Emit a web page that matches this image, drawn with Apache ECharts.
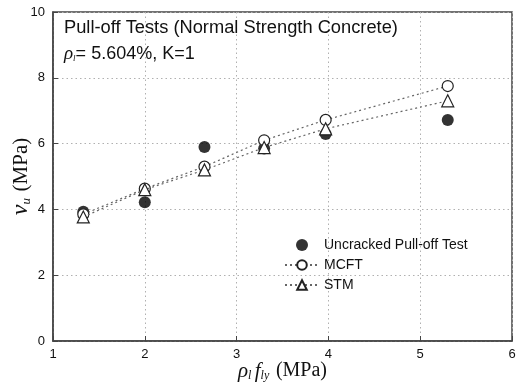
<!DOCTYPE html>
<html><head><meta charset="utf-8">
<script src="https://cdn.jsdelivr.net/npm/echarts@6/dist/echarts.min.js"></script>
<style>html,body{margin:0;padding:0;background:#fff}#c{width:521px;height:389px}</style>
</head><body><div id="c"></div>
<script>
const xVals = [1.33, 2.0, 2.65, 3.3, 3.97, 5.3];
const uncracked = [3.93, 4.22, 5.9, 5.85, 6.29, 6.72];
const mcft = [3.85, 4.63, 5.3, 6.1, 6.72, 7.75];
const stm = [3.77, 4.6, 5.2, 5.88, 6.45, 7.3];
const seriesNames = ['Uncracked Pull-off Test', 'MCFT', 'STM'];
const titleText = 'Pull-off Tests (Normal Strength Concrete)';
const subText = '= 5.604%, K=1';

const pair = arr => xVals.map((x, i) => [x, arr[i]]);
const chart = echarts.init(document.getElementById('c'));
const lineStyle = { type: [2, 3], color: '#666', width: 1.2 };
chart.setOption({
  animation: false,
  grid: { left: 53, right: 9, top: 12, bottom: 48, show: true, borderColor: '#444', borderWidth: 1.5, outerBoundsMode: 'none', containLabel: false },
  graphic: [
    { type: 'text', left: 64, top: 19, z: 10,
      style: { text: titleText, font: '18.3px "Liberation Sans"', fill: '#111' } },
    { type: 'text', left: 64, top: 44, z: 10,
      style: {
        text: '{r|ρ}{s|l}{n|' + subText + '}',
        rich: {
          r: { fontFamily: 'Liberation Serif', fontStyle: 'italic', fontSize: 19, fill: '#111', verticalAlign: 'bottom' },
          s: { fontFamily: 'Liberation Serif', fontStyle: 'italic', fontSize: 9, fill: '#111', verticalAlign: 'bottom' },
          n: { fontFamily: 'Liberation Sans', fontSize: 18, fill: '#111', verticalAlign: 'bottom' }
        }
      } }
  ],
  legend: {
    orient: 'vertical', left: 279, top: 233, itemGap: 6, itemWidth: 34, itemHeight: 12,
    data: seriesNames,
    textStyle: { fontFamily: 'Liberation Sans', fontSize: 14, color: '#111' }
  },
  xAxis: {
    type: 'value', min: 1, max: 6, interval: 1,
    axisLine: { lineStyle: { color: '#444', width: 1.5 } },
    axisTick: { inside: true, length: 5, lineStyle: { color: '#444' } },
    axisLabel: { fontFamily: 'Liberation Sans', fontSize: 13, color: '#111', margin: 7 },
    splitLine: { show: true, lineStyle: { type: [1.5, 3], color: '#b0b0b0' } },
    name: '{r|ρ}{s|l} {f|f}{s|ly}  {m|(MPa)}',
    nameLocation: 'middle', nameGap: 19, nameMoveOverlap: false,
    nameTextStyle: {
      rich: {
        r: { fontFamily: 'Liberation Serif', fontStyle: 'italic', fontSize: 21, color: '#111' },
        f: { fontFamily: 'Liberation Serif', fontStyle: 'italic', fontSize: 21, color: '#111' },
        s: { fontFamily: 'Liberation Serif', fontStyle: 'italic', fontSize: 12, color: '#111', verticalAlign: 'bottom', padding: [10, 0, 0, 0] },
        m: { fontFamily: 'Liberation Serif', fontSize: 20, color: '#111' }
      }
    }
  },
  yAxis: {
    type: 'value', min: 0, max: 10, interval: 2,
    axisLine: { lineStyle: { color: '#444', width: 1.5 } },
    axisTick: { inside: true, length: 5, lineStyle: { color: '#444' } },
    axisLabel: { fontFamily: 'Liberation Sans', fontSize: 13, color: '#111', margin: 8 },
    splitLine: { show: true, lineStyle: { type: [1.5, 3], color: '#b0b0b0' } },
    name: '{v|v}{s|u}  {m|(MPa)}',
    nameLocation: 'middle', nameGap: 20, nameMoveOverlap: false,
    nameTextStyle: {
      rich: {
        v: { fontFamily: 'Liberation Serif', fontStyle: 'italic', fontSize: 24, color: '#111' },
        s: { fontFamily: 'Liberation Serif', fontStyle: 'italic', fontSize: 13, color: '#111', verticalAlign: 'bottom', padding: [10, 0, 0, 0] },
        m: { fontFamily: 'Liberation Serif', fontSize: 21, color: '#111' }
      }
    }
  },
  series: [
    { name: seriesNames[0], type: 'scatter', data: pair(uncracked), symbol: 'circle', symbolSize: 12,
      itemStyle: { color: '#000' }, z: 3 },
    { name: seriesNames[1], type: 'line', data: pair(mcft), symbol: 'circle', symbolSize: 11,
      itemStyle: { color: '#fff', borderColor: '#222', borderWidth: 1.2 }, lineStyle: lineStyle, z: 4 },
    { name: seriesNames[2], type: 'line', data: pair(stm), symbol: 'triangle', symbolSize: 12,
      itemStyle: { color: '#fff', borderColor: '#222', borderWidth: 1.2 }, lineStyle: lineStyle, z: 5 }
  ]
});
</script></body></html>
